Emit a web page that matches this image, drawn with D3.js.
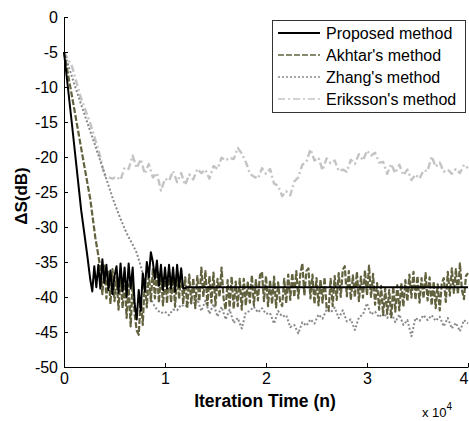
<!DOCTYPE html>
<html>
<head>
<meta charset="utf-8">
<title>Delta S vs iteration time</title>
<script src="https://cdn.jsdelivr.net/npm/d3@7"></script>
<style>
body { margin: 0; background: #fff; }
text { font-family: Arial, "Liberation Sans", sans-serif; fill: #000; }
</style>
</head>
<body>
<script>
// ---- data (x in units of 1e4 iterations, y in dB) ----
var seriesNames = ["Proposed method", "Akhtar's method", "Zhang's method", "Eriksson's method"];
var xTicks = [0, 1, 2, 3, 4];
var yTicks = [0, -5, -10, -15, -20, -25, -30, -35, -40, -45, -50];

// proposed: explicit points
var proposedPts = [[0,-5],[0.08,-15.5],[0.17,-27.6],[0.23,-34],[0.26,-37.5],[0.28,-39.2],
  [0.30,-35.6],[0.32,-38.6],[0.34,-35.4],[0.36,-38.8],[0.38,-34.6],[0.40,-38.0],[0.42,-35.4],[0.44,-39.0],
  [0.46,-36.2],[0.48,-39.6],[0.50,-37.0],[0.52,-35.6],[0.54,-39.4],[0.56,-35.2],[0.58,-39.2],[0.60,-35.8],
  [0.62,-40.0],[0.64,-35.2],[0.66,-38.8],[0.68,-35.8],[0.70,-41.0],[0.72,-43.2],[0.74,-39.0],[0.76,-42.0],
  [0.78,-36.6],[0.80,-39.2],[0.82,-35.0],[0.84,-37.2],[0.86,-33.6],[0.88,-35.0],[0.90,-37.4],[0.92,-34.8],
  [0.94,-38.4],[0.96,-35.4],[0.98,-39.0],[1.00,-35.8],[1.02,-38.8],[1.04,-35.4],[1.06,-38.8],[1.08,-35.8],
  [1.10,-39.2],[1.12,-35.4],[1.14,-38.6],[1.16,-35.9],[1.18,-38.8],[1.22,-38.6],[4.0,-38.6]];

// akhtar: start of curve, then samples every 0.02 from 0.36
var akhtarHead = [[0,-5],[0.1,-13],[0.2,-21.2],[0.26,-26],[0.31,-31.5]];
var akhtarStart = 0.36, akhtarStep = 0.02;
var akhtarVals = [
  -35.8,-39.6,-35.5,-40.2,-36.4,-41.0,-36.0,-40.6,-37.2,-41.8,
  -36.8,-41.6,-37.5,-43.0,-38.2,-44.2,-38.0,-42.5,-44.8,-45.4,
  -40.2,-44.0,-37.6,-41.5,-36.4,-40.6,-36.0,-40.2,-36.3,-40.8,
  -36.5,-41.2,-37.0,-40.9,-36.2,-40.8,-36.8,-41.4,-36.6,-40.3,
  -36.2,-41.0,-37.2,-41.6,-36.8,-40.9,-37.3,-41.6,-37.0,-40.6,
  -35.8,-40.0,-36.3,-41.2,-37.0,-40.8,-36.5,-41.2,-37.4,-40.0,
  -35.8,-40.2,-41.8,-37.6,-41.5,-37.1,-41.7,-37.8,-41.3,-37.4,
  -41.8,-37.4,-41.2,-37.8,-40.8,-36.9,-41.2,-37.6,-40.5,-36.9,
  -36.4,-40.6,-37.0,-41.3,-37.6,-41.0,-37.1,-41.5,-37.9,-40.7,
  -41.3,-37.4,-40.9,-36.8,-40.4,-36.6,-40.0,-36.3,-40.2,-36.7,
  -35.2,-39.8,-36.3,-35.9,-40.2,-36.8,-41.0,-37.3,-41.2,-37.5,
  -40.8,-37.2,-41.5,-41.9,-37.4,-41.3,-37.0,-40.4,-36.6,-40.0,
  -36.1,-35.6,-39.9,-36.3,-40.4,-36.9,-40.0,-36.4,-40.6,-37.1,
  -40.1,-36.2,-39.8,-35.5,-40.0,-36.7,-41.1,-38.0,-41.8,-38.4,
  -42.6,-38.8,-42.4,-39.0,-42.9,-38.5,-42.1,-38.3,-41.9,-38.0,
  -41.4,-37.6,-40.6,-36.8,-40.1,-36.4,-40.4,-37.0,-40.8,-37.3,
  -40.2,-36.6,-40.5,-37.2,-41.2,-37.8,-41.6,-38.2,-41.9,-38.1,
  -37.3,-40.7,-36.4,-39.8,-35.9,-39.4,-36.0,-39.6,-35.2,-39.0,
  -40.3,-37.0,-36.6];

// zhang: start of curve, then samples every 0.04 from 1.00
var zhangHead = [[0,-5],[0.1,-9.5],[0.2,-13.8],[0.3,-18],[0.4,-22.3],[0.485,-26],[0.55,-28.5],[0.62,-30.9],
  [0.68,-32.5],[0.72,-33.7],[0.77,-36.1],[0.82,-38.6],[0.88,-40.9],[0.92,-41.8],[0.96,-42.3]];
var zhangStart = 1.00, zhangStep = 0.04;
var zhangVals = [
  -42.1,-42.6,-41.8,-41.9,-41.1,-41.4,-40.6,-41.0,-40.3,-42.0,
  -40.5,-42.4,-41.0,-42.8,-41.4,-43.2,-41.8,-43.7,-43.0,-44.5,
  -42.2,-42.0,-41.4,-42.2,-41.6,-42.4,-42.3,-43.8,-42.0,-42.8,
  -42.6,-44.3,-44.0,-45.2,-43.6,-44.1,-43.2,-43.8,-42.5,-43.1,
  -41.8,-42.2,-41.5,-43.0,-41.9,-43.5,-43.2,-44.7,-42.9,-42.5,
  -40.9,-42.5,-42.1,-42.9,-42.2,-43.0,-42.2,-43.6,-42.5,-44.0,
  -43.3,-45.6,-43.0,-43.4,-42.6,-43.3,-42.6,-43.4,-42.8,-44.2,
  -43.0,-44.5,-43.7,-44.9,-43.3,-43.8];

// eriksson: start of curve, then samples every 0.04 from 0.44
var erikssonHead = [[0,-5],[0.08,-7.1],[0.16,-11.2],[0.26,-15.2],[0.29,-16.6],[0.36,-20],[0.40,-22.6]];
var erikssonStart = 0.44, erikssonStep = 0.04;
var erikssonVals = [
  -22.9,-23.1,-22.8,-23.3,-21.5,-21.7,-19.8,-21.6,-20.3,-22.4,
  -21.0,-22.9,-22.3,-24.8,-23.1,-23.4,-22.0,-23.6,-22.3,-24.0,
  -22.5,-23.2,-21.7,-22.3,-21.8,-23.1,-21.3,-21.7,-20.1,-20.5,
  -20.1,-20.3,-18.7,-19.5,-20.7,-22.4,-22.8,-23.1,-21.6,-22.4,
  -21.7,-23.8,-24.1,-25.6,-24.9,-25.5,-23.5,-22.9,-21.1,-20.7,
  -18.9,-20.5,-20.1,-21.9,-20.2,-20.9,-20.5,-22.0,-21.8,-22.1,
  -20.4,-21.0,-19.6,-20.5,-19.1,-19.8,-19.4,-20.8,-20.7,-22.4,
  -21.0,-22.3,-21.1,-22.6,-21.8,-23.3,-22.5,-23.1,-21.9,-22.0,
  -19.9,-21.4,-20.8,-22.1,-21.8,-22.4,-21.7,-22.3,-21.1,-21.6];

// ---- layout ----
var W = 469, H = 421;
var svg = d3.select("body").append("svg").attr("width", W).attr("height", H);

var x = d3.scaleLinear().domain([0, 4]).range([64, 468]);
var y = d3.scaleLinear().domain([-50, 0]).range([367, 17]);

function joinSeries(head, start, step, vals) {
  return head.concat(vals.map(function(v, i) { return [start + i * step, v]; }));
}

var styles = [
  {color: "#000000", width: 2,   dash: null},
  {color: "#62623f", width: 2.2, dash: "6,2"},
  {color: "#8a8a8a", width: 2,   dash: "2,2"},
  {color: "#c4c4c4", width: 2.4, dash: "7,3,2,3"}
];
var legendWidths = [2, 1.5, 1.5, 1.5];

var seriesData = [
  proposedPts,
  joinSeries(akhtarHead, akhtarStart, akhtarStep, akhtarVals),
  joinSeries(zhangHead, zhangStart, zhangStep, zhangVals),
  joinSeries(erikssonHead, erikssonStart, erikssonStep, erikssonVals)
];

var line = d3.line().x(function(d){ return x(d[0]); }).y(function(d){ return y(d[1]); });

// draw back to front: Eriksson, Zhang, Akhtar, Proposed
[3, 2, 1, 0].forEach(function(k) {
  svg.append("path")
    .datum(seriesData[k])
    .attr("d", line)
    .attr("fill", "none")
    .attr("stroke", styles[k].color)
    .attr("stroke-width", styles[k].width)
    .attr("stroke-dasharray", styles[k].dash)
    .attr("stroke-linejoin", "round");
});

// axes, ticks pointing inward
var fmt = function(d) { return String(d); };
var yAxis = svg.append("g").attr("transform", "translate(64,0)")
  .call(d3.axisLeft(y).tickValues(yTicks).tickFormat(fmt).tickSizeInner(-4).tickSizeOuter(0).tickPadding(6));
var xAxis = svg.append("g").attr("transform", "translate(0,367)")
  .call(d3.axisBottom(x).tickValues(xTicks).tickFormat(fmt).tickSizeInner(-4).tickSizeOuter(0).tickPadding(6));

[yAxis, xAxis].forEach(function(g) {
  g.selectAll("text").style("font-size", "16px").attr("fill", "#000");
  g.select(".domain").attr("stroke", "#000");
  g.selectAll(".tick line").attr("stroke", "#000");
});
// last x label sits at the right edge; keep it inside the page
xAxis.selectAll(".tick text").filter(function(d) { return d === 4; })
  .attr("text-anchor", "end").attr("x", 0);

svg.append("text")
  .attr("x", 265).attr("y", 407)
  .attr("text-anchor", "middle")
  .style("font-size", "17.5px").style("font-weight", "bold")
  .text("Iteration Time (n)");

svg.append("text")
  .attr("transform", "translate(27,196) rotate(-90)")
  .attr("text-anchor", "middle")
  .style("font-size", "17px").style("font-weight", "bold")
  .text("\u0394S(dB)");

var mult = svg.append("text").attr("x", 422).attr("y", 417).style("font-size", "13px");
mult.append("tspan").text("x 10");
mult.append("tspan").attr("dy", -7).style("font-size", "10px").text("4");

// legend
var legend = svg.append("g");
legend.append("rect")
  .attr("x", 272.5).attr("y", 20.5).attr("width", 193).attr("height", 92)
  .attr("fill", "#fff").attr("stroke", "#333");

seriesNames.forEach(function(name, i) {
  var ly = 33 + i * 22;
  legend.append("line")
    .attr("x1", 278).attr("x2", 320).attr("y1", ly).attr("y2", ly)
    .attr("stroke", styles[i].color)
    .attr("stroke-width", legendWidths[i])
    .attr("stroke-dasharray", styles[i].dash);
  legend.append("text")
    .attr("x", 326).attr("y", ly).attr("dy", "0.35em")
    .style("font-size", "16px")
    .text(name);
});
</script>
</body>
</html>
